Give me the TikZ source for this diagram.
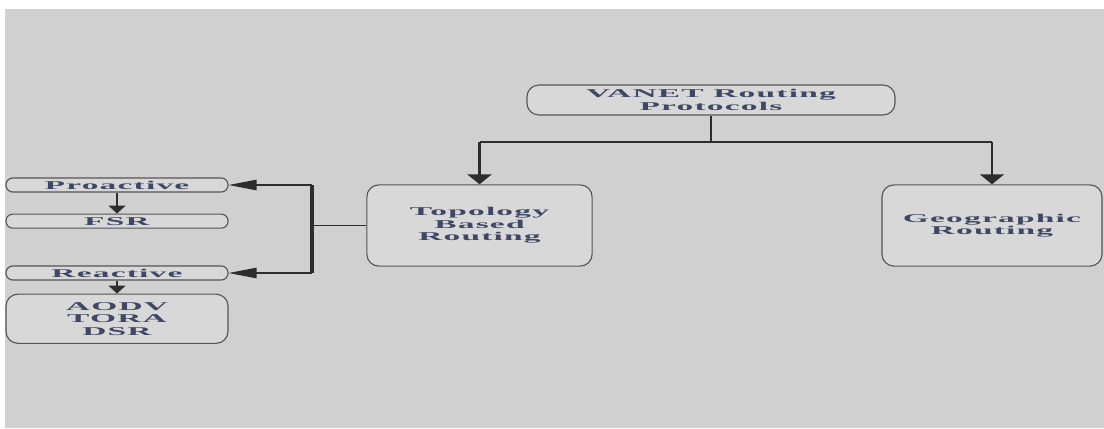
\documentclass[tikz,border=0pt]{standalone}
\usepackage{fontspec}
\newfontfamily\boxfont{Liberation Serif Bold}[FakeStretch=2.8,LetterSpace=10]
\usetikzlibrary{
    positioning, % relative placement (below=of)
    arrows.meta  % Triangle tips
}
\definecolor{bggray}{RGB}{208,208,208}
\definecolor{boxgray}{RGB}{216,216,216}
\definecolor{edgegray}{RGB}{85,85,85}
\definecolor{textblue}{RGB}{62,72,100}
\definecolor{linegray}{RGB}{45,45,45}

\begin{document}
\begin{tikzpicture}[x=0.025cm, y=-0.025cm] % one unit = one pixel, y downwards

    % --- Styles ---
    \tikzset{
        % boxes of the tree
        flow_box/.style={
            draw=edgegray,
            line width=0.8pt,
            fill=boxgray,
            rounded corners=0.3cm,
            inner sep=0pt,
            align=center,
            text=textblue,
            font=\boxfont\fontsize{8.5}{8.9}\selectfont
        },
        % flat pill boxes on the left
        flow_pill/.style={
            flow_box,
            rounded corners=0.17cm,
            minimum width=5.55cm,
            minimum height=0.35cm
        },
        % connectors
        flow_line/.style={line width=1.5pt, draw=linegray},
        flow_arrow/.style={
            -{Triangle[length=0.25cm, width=0.6cm]},
            line width=2pt,
            draw=linegray
        },
        side_arrow/.style={
            -{Triangle[length=0.7cm, width=0.26cm]},
            line width=1pt,
            draw=linegray
        },
        small_arrow/.style={
            -{Triangle[length=0.2cm, width=0.42cm]},
            line width=2pt,
            draw=linegray
        }
    }

    % --- Background ---
    \useasboundingbox (0,0) rectangle (1104,428);
    \fill[white] (0,0) rectangle (1104,428);
    \fill[bggray] (5,9) rectangle (1104,428);

    % --- Nodes ---
    \node[flow_box, minimum width=9.2cm, minimum height=0.75cm] (vanet) at (711,100) {VANET Routing\\Protocols};
    \node[flow_box, minimum width=5.63cm, minimum height=2.03cm] (topo) at (479.5,225.5) {Topology\\Based\\Routing};
    \node[flow_box, minimum width=5.5cm, minimum height=2.03cm] (geo) at (992,225.5) {Geographic\\Routing};

    \node[flow_pill] (pro) at (117,185) {Proactive};
    \node[flow_pill, below=0.525cm of pro] (fsr) {FSR};
    \node[flow_pill] (rea) at (117,273) {Reactive};
    \node[flow_box, minimum width=5.55cm, minimum height=1.23cm, below=0.325cm of rea] (aodv) {AODV\\TORA\\DSR};

    % --- Connectors ---
    \draw[flow_line, line width=2pt] (vanet.south) -- ++(0,26) coordinate (junction);
    \draw[flow_line] (topo.north |- junction) -- (geo.north |- junction);
    \draw[flow_arrow] (topo.north |- junction) -- (topo.north);
    \draw[flow_arrow] (geo.north |- junction) -- (geo.north);

    \coordinate (bus) at (312,0);
    \draw[flow_line, line width=2.8pt] (bus |- pro.east) -- (bus |- rea.east);
    \draw[flow_line, line width=0.8pt] (topo.west) -- (bus |- topo.west);
    \draw[side_arrow] (bus |- pro.east) -- (pro.east);
    \draw[side_arrow] (bus |- rea.east) -- (rea.east);

    \draw[small_arrow] (pro.south) -- (fsr.north);
    \draw[small_arrow] (rea.south) -- (aodv.north);

\end{tikzpicture}
\end{document}
